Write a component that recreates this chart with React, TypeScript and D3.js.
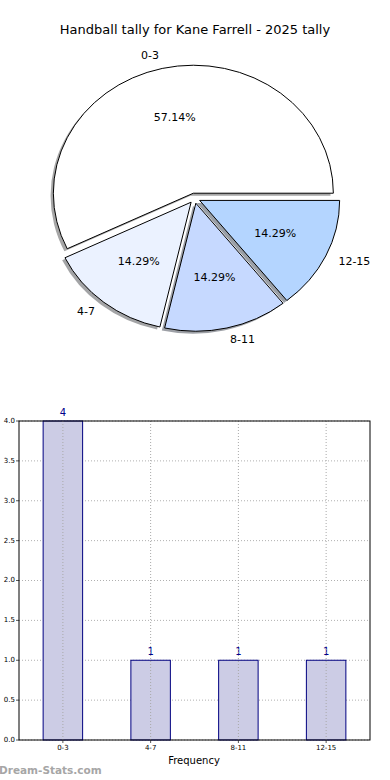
import React from "react";
import * as d3 from "d3";

const categories = ["0-3", "4-7", "8-11", "12-15"];
const counts = [4, 1, 1, 1];
const pieColors = ["#ffffff", "#ebf2ff", "#c6d9ff", "#b4d5ff"];
const yTicks = [0, 0.5, 1, 1.5, 2, 2.5, 3, 3.5, 4];
const title = "Handball tally for Kane Farrell - 2025 tally";

const W = 390;
const H = 780;
const FONT = "DejaVu Sans, Verdana, sans-serif";

// pie geometry
const CX = 194.6;
const CY = 198.2;
const RX = 140;
const RY = 128;
const EXPLODE = 0.04;
const SHADOW = 0.02;

// bar geometry
const BL = 19, BR = 370, BT = 421, BB = 740;

function darken(c: string) {
  const col = d3.rgb(c);
  return d3.rgb(col.r * 0.3, col.g * 0.3, col.b * 0.3).toString();
}

export default function App() {
  const total = d3.sum(counts);
  const pie = d3
    .pie<number>()
    .sort(null)
    .startAngle(Math.PI / 2)
    .endAngle(Math.PI / 2 - 2 * Math.PI);
  const arcs = pie(counts);
  const arcGen = d3.arc<d3.PieArcDatum<number>>().innerRadius(0).outerRadius(1);

  const slices = arcs.map((a, i) => {
    const mid = (a.startAngle + a.endAngle) / 2; // d3 angle
    const ux = Math.sin(mid);
    const uy = -Math.cos(mid);
    const ox = CX + EXPLODE * RX * ux;
    const oy = CY + EXPLODE * RY * uy;
    return {
      d: arcGen(a) as string,
      ox,
      oy,
      lx: ox + 1.1 * RX * ux,
      ly: oy + 1.1 * RY * uy,
      px: ox + 0.6 * RX * ux,
      py: oy + 0.6 * RY * uy,
      anchor: ux < 0 ? "end" : "start",
      pct: ((counts[i] / total) * 100).toFixed(2) + "%",
      color: pieColors[i],
      label: categories[i],
    };
  });

  const x = d3.scaleBand<string>().domain(categories).range([BL, BR]).padding(0);
  const y = d3.scaleLinear().domain([0, 4]).range([BB, BT]);
  const bw = x.bandwidth() * 0.45;

  return (
    <svg
      width={W}
      height={H}
      style={{ position: "absolute", left: 0, top: 0, background: "#fff" }}
      fontFamily={FONT}
    >
      <rect width={W} height={H} fill="#fff" />
      <text x={195} y={30} fontSize={13} textAnchor="middle" dominantBaseline="middle" fill="#000">
        {title}
      </text>

      {/* shadows */}
      {slices.map((s, i) => (
        <path
          key={"sh" + i}
          d={s.d}
          transform={`translate(${s.ox - SHADOW * RX},${s.oy + SHADOW * RY}) scale(${RX},${RY})`}
          fill={darken(s.color)}
          fillOpacity={0.5}
          stroke="none"
        />
      ))}
      {slices.map((s, i) => (
        <path
          key={"w" + i}
          d={s.d}
          transform={`translate(${s.ox},${s.oy}) scale(${RX},${RY})`}
          fill={s.color}
          stroke="#000"
          strokeWidth={1}
          vectorEffect="non-scaling-stroke"
          strokeLinejoin="miter"
        />
      ))}
      {slices.map((s, i) => (
        <g key={"l" + i}>
          <text x={s.lx} y={s.ly} fontSize={11} textAnchor={s.anchor} dominantBaseline="middle">
            {s.label}
          </text>
          <text x={s.px} y={s.py} fontSize={11} textAnchor="middle" dominantBaseline="middle">
            {s.pct}
          </text>
        </g>
      ))}

      {/* bar chart */}
      {yTicks.map((t) => (
        <g key={"yt" + t}>
          <line x1={BL} x2={BR} y1={y(t)} y2={y(t)} stroke="#b0b0b0" strokeDasharray="1,2" />
          <line x1={BL - 3} x2={BL} y1={y(t)} y2={y(t)} stroke="#555" />
          <text x={BL - 4} y={y(t)} fontSize={7} textAnchor="end" dominantBaseline="middle" fill="#000">
            {t.toFixed(1)}
          </text>
        </g>
      ))}
      {categories.map((c, i) => {
        const cx = (x(c) as number) + x.bandwidth() / 2;
        return (
          <g key={"bar" + c}>
            <rect
              x={cx - bw / 2}
              y={y(counts[i])}
              width={bw}
              height={BB - y(counts[i])}
              fill="#ccccE5"
              stroke="#000080"
              strokeWidth={1}
            />
            <text x={cx} y={y(counts[i]) - 8} fontSize={10} textAnchor="middle" dominantBaseline="middle" fill="#00008b">
              {counts[i]}
            </text>
          </g>
        );
      })}
      {categories.map((c) => {
        const cx = (x(c) as number) + x.bandwidth() / 2;
        return (
          <g key={"xg" + c}>
            <line x1={cx} x2={cx} y1={BT} y2={BB} stroke="#a8a8a8" strokeDasharray="1,2" />
            <line x1={cx} x2={cx} y1={BB} y2={BB + 3} stroke="#555" />
            <text x={cx} y={748} fontSize={7} textAnchor="middle" dominantBaseline="middle" fill="#000">
              {c}
            </text>
          </g>
        );
      })}
      <rect x={BL} y={BT} width={BR - BL} height={BB - BT} fill="none" stroke="#000" strokeWidth={1} />
      <text x={194} y={761} fontSize={10} textAnchor="middle" dominantBaseline="middle" fill="#000">
        Frequency
      </text>
      <text x={-1} y={771} fontSize={10.5} fontWeight="bold" fill="#a6a6a6" dominantBaseline="middle">
        Dream-Stats.com
      </text>
    </svg>
  );
}
